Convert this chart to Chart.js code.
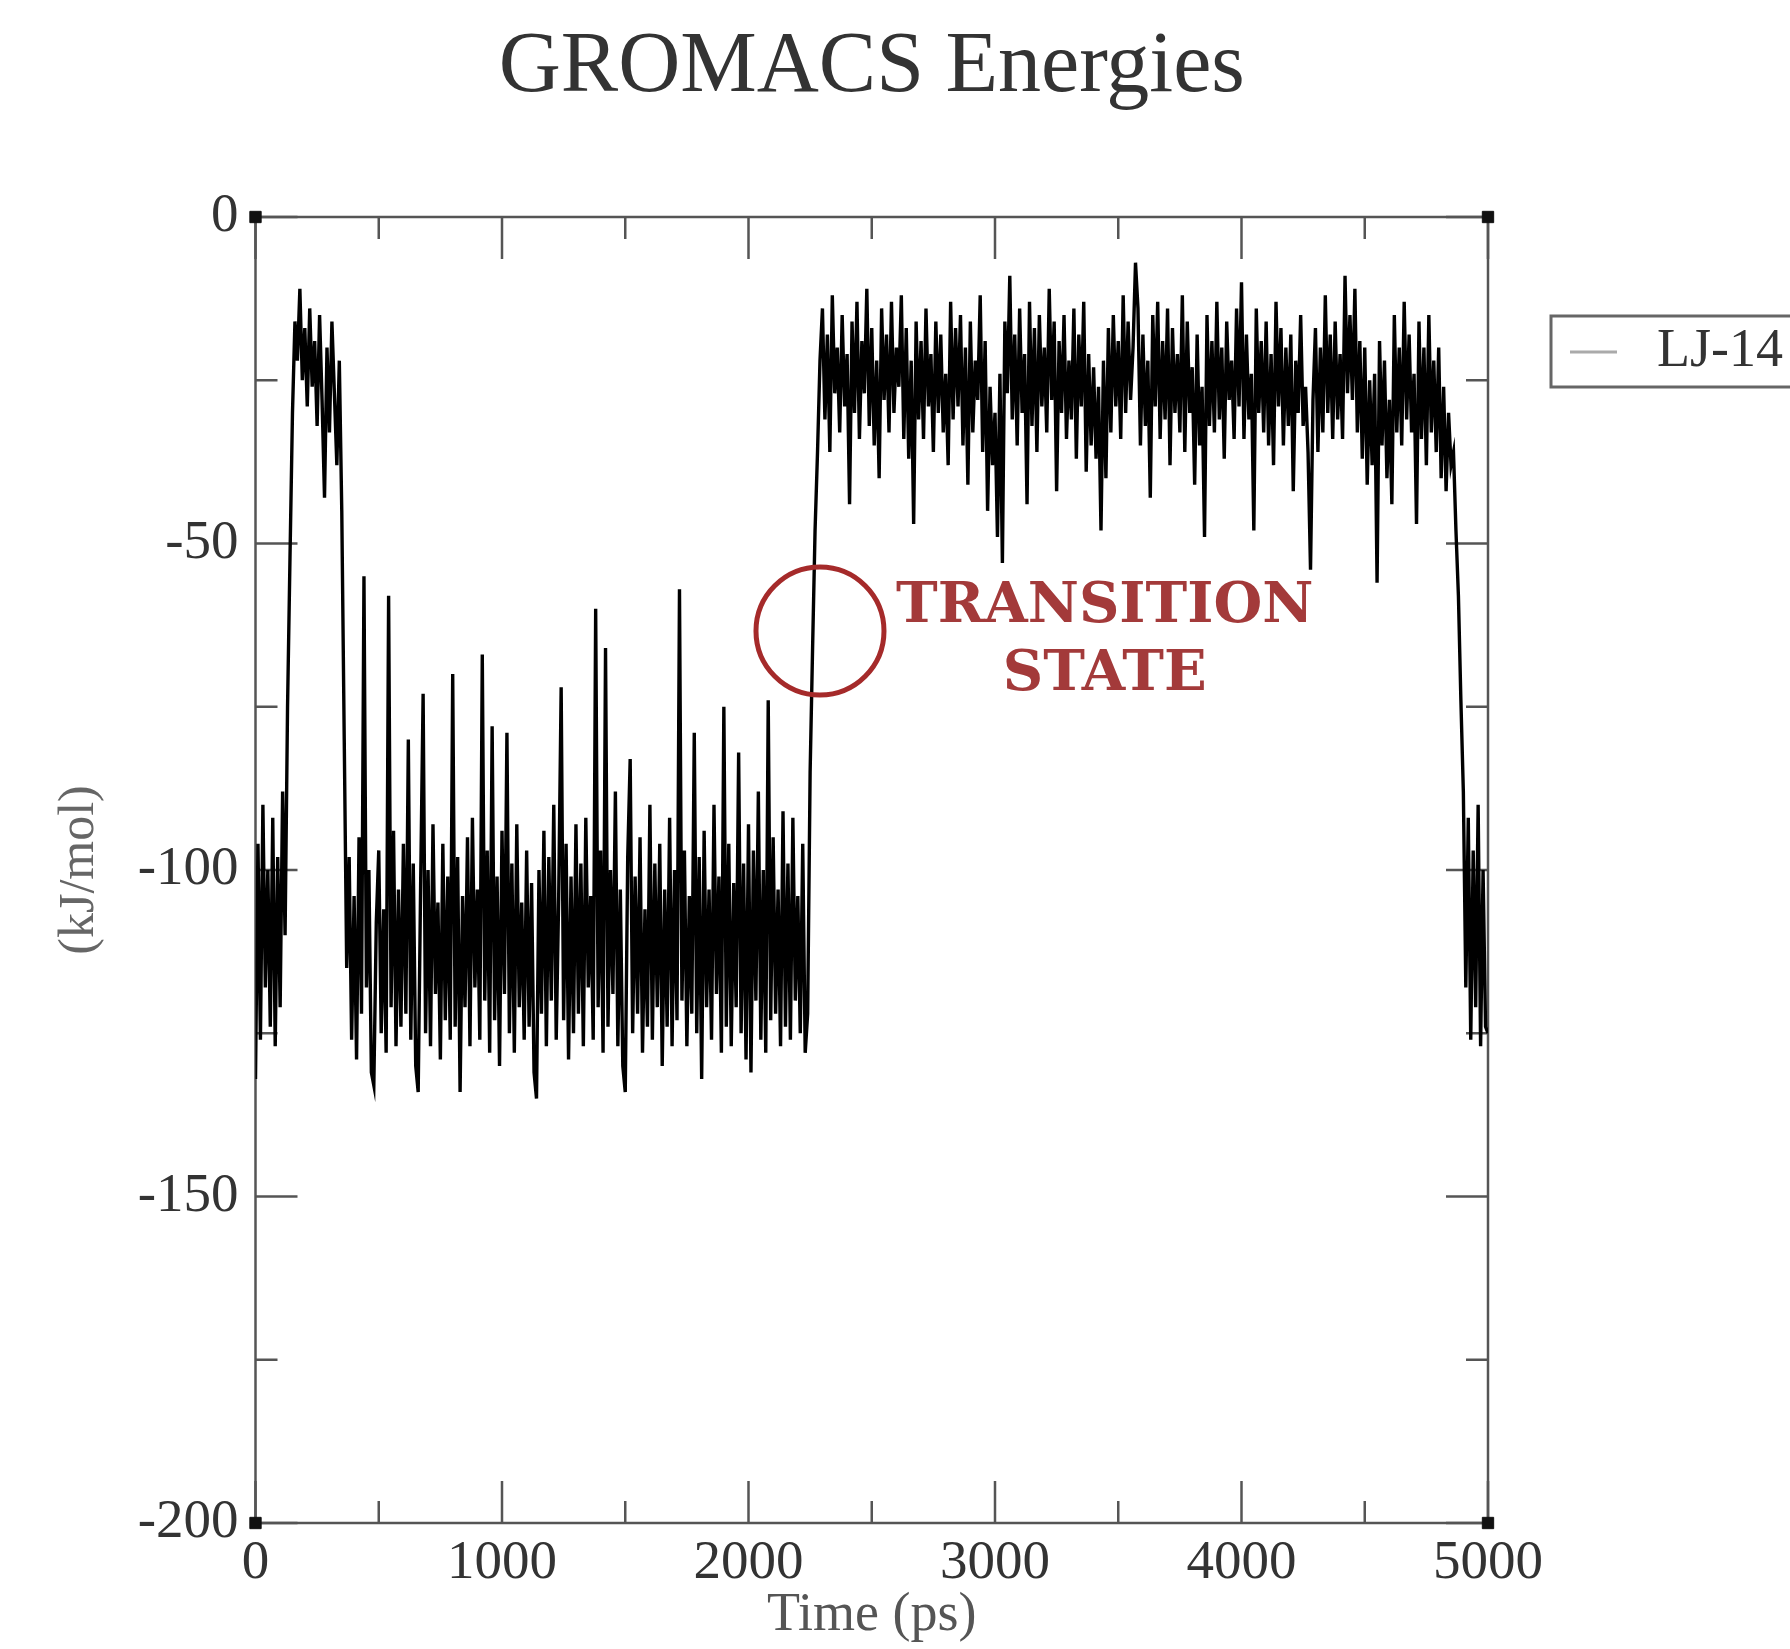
<!DOCTYPE html>
<html>
<head>
<meta charset="utf-8">
<title>GROMACS Energies</title>
<script src="https://cdn.jsdelivr.net/npm/chart.js@4.4.1/dist/chart.umd.min.js"></script>
<style>
  html, body { margin: 0; padding: 0; background: #fff; }
  #wrap { width: 1790px; height: 1649px; }
</style>
</head>
<body>
<div id="wrap"><canvas id="gromacs-energies"></canvas></div>
<script>
// LJ-14 energy (kJ/mol), one value every 10 ps, 0 -> 5000 ps
const sampleStepPs = 10;
const lj14 = [
    -132, -96, -126, -90, -118, -100, -124, -92, -127, -98,
    -121, -88, -110, -75, -52, -30, -16, -22, -11, -25,
    -17, -29, -14, -26, -19, -32, -15, -28, -43, -20,
    -33, -16, -27, -38, -22, -45, -80, -115, -98, -126,
    -104, -129, -95, -122, -55, -118, -100, -131, -133, -108,
    -97, -125, -106, -128, -58, -121, -94, -127, -103, -124,
    -96, -122, -80, -126, -99, -130, -134, -102, -73, -125,
    -100, -127, -93, -119, -105, -129, -96, -123, -101, -126,
    -70, -124, -98, -134, -104, -121, -95, -127, -92, -118,
    -103, -126, -67, -120, -97, -128, -78, -123, -101, -130,
    -94, -119, -79, -125, -99, -128, -93, -121, -105, -126,
    -97, -124, -102, -131, -135, -100, -122, -94, -127, -98,
    -120, -90, -126, -104, -72, -123, -96, -129, -101, -125,
    -93, -122, -99, -127, -92, -118, -104, -126, -60, -121,
    -97, -128, -66, -124, -100, -119, -88, -127, -103, -130,
    -134, -98, -83, -125, -101, -122, -95, -128, -106, -124,
    -90, -126, -99, -121, -96, -130, -103, -124, -92, -127,
    -100, -123, -57, -120, -97, -127, -104, -122, -79, -125,
    -98, -132, -94, -121, -103, -126, -90, -119, -101, -128,
    -75, -124, -96, -127, -102, -121, -82, -125, -99, -129,
    -93, -131, -97, -120, -88, -126, -100, -128, -74, -123,
    -95, -122, -103, -127, -91, -124, -99, -126, -92, -120,
    -104, -125, -96, -128, -122, -85, -66, -48, -36, -22,
    -14, -31, -18, -36, -12, -27, -20, -33, -15, -29,
    -21, -44, -16, -30, -13, -34, -19, -27, -11, -32,
    -17, -35, -22, -40, -14, -28, -18, -33, -13, -30,
    -20, -26, -12, -34, -17, -37, -22, -47, -16, -31,
    -19, -34, -14, -29, -21, -36, -16, -30, -18, -33,
    -24, -38, -13, -31, -17, -29, -15, -35, -20, -41,
    -16, -33, -22, -28, -12, -36, -19, -45, -26, -38,
    -30, -49, -24, -53, -16, -27, -9, -31, -18, -35,
    -14, -30, -21, -44, -13, -32, -17, -36, -15, -29,
    -20, -33, -11, -28, -16, -42, -19, -30, -15, -34,
    -22, -31, -14, -37, -18, -29, -13, -39, -21, -35,
    -23, -37, -26, -48, -22, -40, -17, -33, -15, -29,
    -19, -34, -12, -30, -16, -28, -20, -7, -14, -35,
    -18, -32, -22, -43, -15, -29, -13, -34, -19, -31,
    -14, -38, -17, -30, -21, -33, -12, -36, -16, -30,
    -23, -41, -18, -35, -26, -49, -15, -32, -19, -33,
    -13, -31, -20, -37, -16, -28, -22, -34, -14, -29,
    -10, -34, -18, -31, -24, -48, -14, -30, -19, -33,
    -16, -35, -21, -38, -13, -29, -17, -35, -20, -32,
    -18, -42, -22, -30, -15, -32, -26, -36, -54, -28,
    -17, -36, -20, -33, -12, -30, -18, -34, -16, -31,
    -21, -34, -9, -27, -15, -28, -11, -33, -19, -37,
    -20, -41, -25, -38, -24, -56, -19, -35, -22, -40,
    -28, -44, -15, -33, -20, -35, -13, -31, -18, -33,
    -24, -47, -16, -34, -20, -38, -15, -33, -22, -36,
    -20, -40, -26, -42, -30, -38, -36, -48, -58, -74,
    -88, -118, -92, -126, -97, -121, -90, -127, -100, -124,
    -125
];

const timeTicks = [0, 1000, 2000, 3000, 4000, 5000];
const timeMinorTicks = [500, 1500, 2500, 3500, 4500];
const energyTicks = [0, -50, -100, -150, -200];
const energyMinorTicks = [-25, -75, -125, -175];

// the little black squares xmgrace puts on the frame corners
const cornerTimes = [0, 5000, 0, 5000];
const cornerEnergies = [0, 0, -200, -200];

// hand drawn annotation
const transitionTime = 2290;
const transitionEnergy = -63.4;
const transitionLabel = ['TRANSITION', 'STATE'];
const transitionLabelTime = 3445;
const transitionLabelEnergy = [-59.8, -70.2];

const titleText = 'GROMACS Energies';
const serif = "'Liberation Serif', 'Times New Roman', serif";

// title centred over the plot frame (not over the whole canvas)
const frameTitle = {
    id: 'frameTitle',
    afterDraw(chart) {
        const {ctx, chartArea: a} = chart;
        ctx.save();
        ctx.fillStyle = '#333';
        ctx.font = '86px ' + serif;
        ctx.textAlign = 'center';
        ctx.textBaseline = 'alphabetic';
        ctx.fillText(titleText, (a.left + a.right) / 2, 91);
        ctx.restore();
    }
};

// frame + inward ticks on all four sides
const frameTicks = {
    id: 'frameTicks',
    beforeDatasetsDraw(chart) {
        const {ctx, chartArea: a, scales: {x, y}} = chart;
        ctx.save();
        ctx.strokeStyle = '#555';
        ctx.lineWidth = 2.5;
        ctx.strokeRect(a.left, a.top, a.right - a.left, a.bottom - a.top);
        ctx.beginPath();
        const tickX = (v, len) => {
            const px = x.getPixelForValue(v);
            ctx.moveTo(px, a.bottom); ctx.lineTo(px, a.bottom - len);
            ctx.moveTo(px, a.top); ctx.lineTo(px, a.top + len);
        };
        const tickY = (v, len) => {
            const py = y.getPixelForValue(v);
            ctx.moveTo(a.left, py); ctx.lineTo(a.left + len, py);
            ctx.moveTo(a.right, py); ctx.lineTo(a.right - len, py);
        };
        timeTicks.forEach(v => tickX(v, 42));
        timeMinorTicks.forEach(v => tickX(v, 22));
        energyTicks.forEach(v => tickY(v, 42));
        energyMinorTicks.forEach(v => tickY(v, 22));
        ctx.stroke();
        ctx.restore();
    }
};

// "TRANSITION STATE" text next to the circle
const transitionText = {
    id: 'transitionText',
    afterDatasetsDraw(chart) {
        const {ctx, scales: {x, y}} = chart;
        ctx.save();
        ctx.fillStyle = '#a33a3a';
        ctx.font = "bold 56px 'DejaVu Serif', serif";
        ctx.textAlign = 'center';
        ctx.textBaseline = 'middle';
        transitionLabel.forEach((line, i) => {
            ctx.fillText(line, x.getPixelForValue(transitionLabelTime), y.getPixelForValue(transitionLabelEnergy[i]));
        });
        ctx.restore();
    }
};

// legend box sitting to the right of the frame (cut by the page edge)
const sideLegend = {
    id: 'sideLegend',
    afterDraw(chart) {
        const {ctx} = chart;
        const ds = chart.data.datasets[0];
        ctx.save();
        ctx.strokeStyle = '#666';
        ctx.lineWidth = 3;
        ctx.strokeRect(1551, 316, 300, 71);
        ctx.strokeStyle = '#aaa';
        ctx.beginPath();
        ctx.moveTo(1570, 352);
        ctx.lineTo(1617, 352);
        ctx.stroke();
        ctx.fillStyle = '#333';
        ctx.font = '54px ' + serif;
        ctx.textBaseline = 'middle';
        ctx.fillText(ds.label, 1657, 352);
        ctx.restore();
    }
};

const ctx = document.getElementById('gromacs-energies');

const graph = new Chart(ctx, {
    type: 'line',
    data: {
        datasets: [{
            label: 'LJ-14',
            data: lj14.map((v, i) => ({x: i * sampleStepPs, y: v})),
            borderColor: '#000',
            borderWidth: 3.4,
            pointRadius: 0,
            tension: 0,
            order: 2
        }, {
            label: 'corners',
            type: 'scatter',
            data: cornerTimes.map((t, i) => ({x: t, y: cornerEnergies[i]})),
            pointStyle: 'rect',
            pointRadius: 8,
            backgroundColor: '#111',
            borderColor: '#111',
            clip: false,
            order: 1
        }, {
            label: 'transition',
            type: 'scatter',
            data: [{x: transitionTime, y: transitionEnergy}],
            pointStyle: 'circle',
            pointRadius: 64,
            backgroundColor: 'rgba(0,0,0,0)',
            borderColor: '#a52a2a',
            borderWidth: 5,
            clip: false,
            order: 0
        }]
    },
    options: {
        responsive: true,
        maintainAspectRatio: false,
        animation: false,
        layout: {
            padding: {left: 0, top: 217, right: 302, bottom: 0}
        },
        plugins: {
            legend: {display: false},
            tooltip: {enabled: false},
            title: {display: false}
        },
        scales: {
            x: {
                type: 'linear',
                min: 0,
                max: 5000,
                afterFit: s => { s.height = 126; },
                afterBuildTicks: s => { s.ticks = timeTicks.map(v => ({value: v})); },
                grid: {display: false, drawTicks: false},
                border: {display: false},
                ticks: {
                    color: '#333',
                    padding: 8,
                    maxRotation: 0,
                    callback: v => String(v),
                    font: {family: serif, size: 55}
                },
                title: {
                    display: true,
                    text: 'Time (ps)',
                    color: '#555',
                    font: {family: serif, size: 54},
                    padding: {top: 0, bottom: 1}
                }
            },
            y: {
                min: -200,
                max: 0,
                afterFit: s => { s.width = 255.5; },
                afterBuildTicks: s => { s.ticks = energyTicks.map(v => ({value: v})); },
                grid: {display: false, drawTicks: false},
                border: {display: false},
                ticks: {
                    color: '#333',
                    padding: 17,
                    callback: v => String(v),
                    font: {family: serif, size: 55}
                },
                title: {
                    display: true,
                    text: '(kJ/mol)',
                    color: '#666',
                    font: {family: serif, size: 50},
                    padding: {top: 50, bottom: 0}
                }
            }
        }
    },
    plugins: [frameTitle, frameTicks, transitionText, sideLegend]
});
</script>
</body>
</html>
